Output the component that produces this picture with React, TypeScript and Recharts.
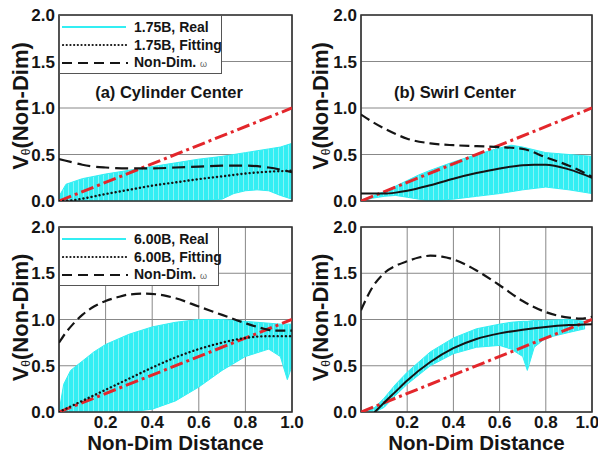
import React from 'react';
import {
  ComposedChart,
  Line,
  Area,
  XAxis,
  YAxis,
  CartesianGrid,
  ReferenceArea,
  Legend,
} from 'recharts';

const FONT = '"Liberation Sans", Arial, Helvetica, sans-serif';

// Axis ticks
const xTicks = [0, 0.2, 0.4, 0.6, 0.8, 1.0];
const yTicks = [0, 0.5, 1.0, 1.5, 2.0];

// Reference linear profile (drawn red, dash-dot) in every panel
const linearX = [0, 1];
const linearV = [0, 1];

// (a) Cylinder center, 1.75B
const omegaAX = [0, 0.05, 0.1, 0.15, 0.2, 0.3, 0.4, 0.5, 0.6, 0.7, 0.8, 0.9, 1.0];
const omegaAV = [0.45, 0.42, 0.39, 0.37, 0.36, 0.35, 0.35, 0.36, 0.37, 0.38, 0.38, 0.36, 0.31];
const fitAX = [0, 0.05, 0.1, 0.2, 0.3, 0.4, 0.5, 0.6, 0.7, 0.8, 0.9, 1.0];
const fitAV = [0, 0.005, 0.025, 0.075, 0.12, 0.165, 0.2, 0.235, 0.265, 0.295, 0.315, 0.325];
const realAX = [0, 0.03, 0.1, 0.2, 0.3, 0.4, 0.5, 0.6, 0.7, 0.75, 0.8, 0.85, 0.9, 0.95, 1.0];
const realALo = [0, 0, 0, 0, 0, 0, 0, 0, 0.02, 0.08, 0.11, 0.12, 0.11, 0.06, 0.02];
const realAHi = [0.05, 0.18, 0.24, 0.29, 0.33, 0.37, 0.41, 0.45, 0.48, 0.5, 0.52, 0.54, 0.56, 0.58, 0.62];

// (b) Swirl center, 1.75B
const omegaBX = [0, 0.05, 0.1, 0.15, 0.2, 0.3, 0.4, 0.5, 0.6, 0.7, 0.8, 0.9, 1.0];
const omegaBV = [0.93, 0.85, 0.78, 0.72, 0.67, 0.62, 0.6, 0.59, 0.58, 0.56, 0.47, 0.38, 0.26];
const fitBX = [0, 0.1, 0.15, 0.2, 0.3, 0.4, 0.5, 0.6, 0.7, 0.75, 0.8, 0.9, 1.0];
const fitBV = [0.08, 0.08, 0.09, 0.11, 0.17, 0.24, 0.3, 0.35, 0.385, 0.39, 0.39, 0.34, 0.25];
const realBX = [0, 0.05, 0.1, 0.15, 0.2, 0.25, 0.3, 0.4, 0.5, 0.6, 0.65, 0.7, 0.8, 0.9, 1.0];
const realBLo = [0, 0.03, 0.05, 0.06, 0.04, 0.02, 0, 0.02, 0.05, 0.08, 0.1, 0.12, 0.15, 0.12, 0.08];
const realBHi = [0.01, 0.05, 0.1, 0.16, 0.22, 0.28, 0.33, 0.42, 0.5, 0.57, 0.6, 0.58, 0.52, 0.5, 0.48];

// (c) Cylinder center, 6.00B
const omegaCX = [0, 0.03, 0.06, 0.1, 0.15, 0.2, 0.25, 0.3, 0.37, 0.45, 0.5, 0.6, 0.7, 0.8, 0.85, 0.88, 0.92, 1.0];
const omegaCV = [0.75, 0.86, 0.95, 1.05, 1.14, 1.2, 1.24, 1.27, 1.28, 1.26, 1.23, 1.14, 1.05, 0.96, 0.92, 0.9, 0.88, 0.88];
const fitCX = [0, 0.1, 0.2, 0.3, 0.4, 0.5, 0.6, 0.7, 0.8, 0.9, 1.0];
const fitCV = [0, 0.12, 0.24, 0.36, 0.48, 0.59, 0.68, 0.75, 0.8, 0.82, 0.82];
const realCX = [0, 0.02, 0.05, 0.1, 0.15, 0.2, 0.3, 0.4, 0.5, 0.6, 0.7, 0.8, 0.9, 0.95, 0.98, 1.0];
const realCLo = [0, 0, 0, 0, 0, 0, 0, 0.03, 0.12, 0.27, 0.45, 0.6, 0.68, 0.6, 0.35, 0.5];
const realCHi = [0, 0.3, 0.45, 0.55, 0.65, 0.73, 0.84, 0.92, 0.97, 1.0, 1.0, 0.98, 0.96, 0.95, 0.95, 0.95];

// (d) Swirl center, 6.00B
const omegaDX = [0, 0.05, 0.1, 0.15, 0.2, 0.25, 0.3, 0.35, 0.4, 0.5, 0.6, 0.7, 0.8, 0.9, 0.95, 1.0];
const omegaDV = [1.1, 1.35, 1.5, 1.58, 1.63, 1.67, 1.69, 1.68, 1.65, 1.53, 1.37, 1.2, 1.08, 1.02, 1.01, 1.03];
const fitDX = [0.06, 0.1, 0.15, 0.2, 0.3, 0.4, 0.5, 0.6, 0.7, 0.8, 0.9, 1.0];
const fitDV = [0, 0.1, 0.22, 0.34, 0.54, 0.69, 0.79, 0.85, 0.89, 0.92, 0.94, 0.95];
const realDX = [0.03, 0.06, 0.1, 0.15, 0.2, 0.3, 0.4, 0.5, 0.6, 0.65, 0.7, 0.72, 0.75, 0.8, 0.9, 0.97];
const realDLo = [0, 0, 0.05, 0.18, 0.3, 0.5, 0.63, 0.7, 0.72, 0.68, 0.6, 0.45, 0.7, 0.8, 0.86, 0.9];
const realDHi = [0.02, 0.05, 0.15, 0.3, 0.43, 0.65, 0.8, 0.9, 0.95, 0.97, 0.98, 0.98, 0.99, 0.99, 1.0, 0.98];

// Legend labels
const legendA = ['1.75B, Real', '1.75B, Fitting', 'Non-Dim. '];
const legendC = ['6.00B, Real', '6.00B, Fitting', 'Non-Dim. '];

const CYAN = '#33eef3';
const RED = '#e3262b';
const INK = '#151515';
const STREAK_FILL = 'url(#realStreaks)';

type Pt = { x: number; v: number };
type BandPt = { x: number; band: [number, number] };

const toPts = (xs: number[], vs: number[]): Pt[] => xs.map((x, i) => ({ x, v: vs[i] }));
const toBand = (xs: number[], lo: number[], hi: number[]): BandPt[] =>
  xs.map((x, i) => ({ x, band: [lo[i], hi[i]] as [number, number] }));

// Shared fill for the raw-signal bands: dense vertical cyan strokes
const StreakDefs = () => (
  <svg width={0} height={0} style={{ position: 'absolute' }}>
    <defs>
      <pattern id="realStreaks" patternUnits="userSpaceOnUse" width={5} height={40}>
        <rect x={0} y={0} width={5} height={40} fill={CYAN} />
        <rect x={3} y={0} width={1} height={40} fill="#86f4f7" />
      </pattern>
    </defs>
  </svg>
);

const YLabel = (props: any) => {
  const vb = props.viewBox || {};
  const cx = 20;
  const cy = vb.y + vb.height / 2 - 2;
  return (
    <text
      x={cx}
      y={cy}
      transform={`rotate(-90, ${cx}, ${cy})`}
      textAnchor="middle"
      dominantBaseline="central"
      fontFamily={FONT}
      fontWeight="bold"
      fontSize={22}
      fill={INK}
    >
      V
      <tspan fontSize={12} dy={6} fontWeight="normal">
        θ
      </tspan>
      <tspan dy={-6}>(Non-Dim)</tspan>
    </text>
  );
};

const XLabel = (props: any) => {
  const vb = props.viewBox || {};
  return (
    <text
      x={vb.x + vb.width / 2}
      y={vb.y + 30}
      textAnchor="middle"
      dominantBaseline="central"
      fontFamily={FONT}
      fontWeight="bold"
      fontSize={20.5}
      fill={INK}
    >
      Non-Dim Distance
    </text>
  );
};

const LegendBox = ({ labels, width, fitDotted }: { labels: string[]; width: number; fitDotted: boolean }) => {
  const samples = [
    <line key="r" x1={0} y1={4} x2={64} y2={4} stroke={CYAN} strokeWidth={2} />,
    fitDotted ? (
      <line key="f" x1={1} y1={4} x2={64} y2={4} stroke={INK} strokeWidth={2.2} strokeDasharray="0.1 3.6" strokeLinecap="round" />
    ) : (
      <line key="f" x1={0} y1={4} x2={64} y2={4} stroke={INK} strokeWidth={2} />
    ),
    <line key="o" x1={0} y1={4} x2={66} y2={4} stroke={INK} strokeWidth={2.2} strokeDasharray="10 6" />,
  ];
  return (
    <div
      style={{
        width,
        boxSizing: 'border-box',
        border: '1px solid #555',
        background: '#fff',
        padding: '2px 0 1px 2px',
        fontFamily: FONT,
        fontWeight: 'bold',
        fontSize: 14,
        color: INK,
        lineHeight: '18px',
      }}
    >
      {labels.map((lab, i) => (
        <div key={lab} style={{ display: 'flex', alignItems: 'center', height: 18 }}>
          <svg width={66} height={8} style={{ marginRight: 6, flex: 'none' }}>
            {samples[i]}
          </svg>
          <span style={{ whiteSpace: 'nowrap' }}>
            {lab}
            {i === 2 ? <span style={{ fontSize: 9, fontWeight: 'normal', color: '#666' }}>ω</span> : null}
          </span>
        </div>
      ))}
    </div>
  );
};

type PanelProps = {
  left: number;
  top: number;
  width: number;
  height: number;
  marginTop: number;
  marginRight: number;
  yAxisWidth: number;
  xAxisHeight: number;
  bottomRow: boolean;
  real: BandPt[];
  fit: Pt[];
  omega: Pt[];
  fitDotted: boolean;
  omegaDash: string;
  legend?: string[];
  legendBox?: { left: number; top: number; width: number };
  title?: string;
  titlePos?: { x: number; y: number };
};

const Panel = (p: PanelProps) => {
  const linear = toPts(linearX, linearV);
  return (
    <div style={{ position: 'absolute', left: p.left, top: p.top, width: p.width, height: p.height }}>
      <ComposedChart
        width={p.width}
        height={p.height}
        margin={{ top: p.marginTop, right: p.marginRight, bottom: 0, left: 0 }}
        style={{ overflow: 'visible' }}
      >
        <CartesianGrid stroke="#888" strokeWidth={1} />
        <XAxis
          type="number"
          dataKey="x"
          domain={[0, 1]}
          ticks={xTicks}
          allowDataOverflow
          height={p.xAxisHeight}
          axisLine={false}
          tickLine={false}
          tickSize={4}
          tickMargin={0}
          tick={p.bottomRow ? { fontFamily: FONT, fontWeight: 'bold', fontSize: 17, fill: INK } : false}
          tickFormatter={(v: number) => (v === 0 ? '' : v.toFixed(1))}
          label={p.bottomRow ? <XLabel /> : undefined}
        />
        <YAxis
          type="number"
          domain={[0, 2]}
          ticks={yTicks}
          allowDataOverflow
          width={p.yAxisWidth}
          axisLine={false}
          tickLine={false}
          tickSize={3}
          tickMargin={1}
          tick={{ fontFamily: FONT, fontWeight: 'bold', fontSize: 17, fill: INK }}
          tickFormatter={(v: number) => v.toFixed(1)}
          label={<YLabel />}
        />
        <Area
          data={p.real}
          dataKey="band"
          type="linear"
          stroke={CYAN}
          strokeWidth={1}
          fill={STREAK_FILL}
          fillOpacity={1}
          isAnimationActive={false}
          legendType="none"
        />
        <Line
          data={linear}
          dataKey="v"
          type="linear"
          stroke={RED}
          strokeWidth={3}
          strokeDasharray="13 4 3 4"
          dot={false}
          isAnimationActive={false}
          legendType="none"
        />
        <Line
          data={p.omega}
          dataKey="v"
          type="monotone"
          stroke={INK}
          strokeWidth={2.2}
          strokeDasharray={p.omegaDash}
          dot={false}
          isAnimationActive={false}
        />
        <Line
          data={p.fit}
          dataKey="v"
          type="monotone"
          stroke={INK}
          strokeWidth={p.fitDotted ? 2.4 : 2}
          strokeDasharray={p.fitDotted ? '0.1 4' : undefined}
          strokeLinecap="round"
          dot={false}
          isAnimationActive={false}
        />
        <ReferenceArea x1={0} x2={1} y1={0} y2={2} fill="none" stroke="#333" strokeWidth={1.6} ifOverflow="visible" />
        {p.legend && p.legendBox ? (
          <Legend
            layout="vertical"
            align="center"
            verticalAlign="middle"
            wrapperStyle={{ position: 'absolute', left: p.legendBox.left, top: p.legendBox.top, width: p.legendBox.width }}
            content={() => <LegendBox labels={p.legend as string[]} width={p.legendBox!.width} fitDotted={p.fitDotted} />}
          />
        ) : null}
      </ComposedChart>
      {p.title && p.titlePos ? (
        <div
          style={{
            position: 'absolute',
            left: p.titlePos.x - 100,
            top: p.titlePos.y - 10,
            width: 200,
            height: 20,
            lineHeight: '20px',
            textAlign: 'center',
            fontFamily: FONT,
            fontWeight: 'bold',
            fontSize: 16.5,
            color: INK,
            pointerEvents: 'none',
          }}
        >
          {p.title}
        </div>
      ) : null}
    </div>
  );
};

export default function App() {
  return (
    <div style={{ position: 'absolute', left: 0, top: 0, width: 598, height: 452, background: '#fff', overflow: 'hidden' }}>
      <StreakDefs />
      <Panel
        left={0}
        top={0}
        width={310}
        height={220}
        marginTop={15}
        marginRight={18}
        yAxisWidth={59}
        xAxisHeight={19}
        bottomRow={false}
        real={toBand(realAX, realALo, realAHi)}
        fit={toPts(fitAX, fitAV)}
        omega={toPts(omegaAX, omegaAV)}
        fitDotted
        omegaDash="13 6"
        legend={legendA}
        legendBox={{ left: 59, top: 15, width: 163 }}
        title="(a) Cylinder Center"
        titlePos={{ x: 169, y: 92 }}
      />
      <Panel
        left={300}
        top={0}
        width={298}
        height={220}
        marginTop={15}
        marginRight={6}
        yAxisWidth={61}
        xAxisHeight={19}
        bottomRow={false}
        real={toBand(realBX, realBLo, realBHi)}
        fit={toPts(fitBX, fitBV)}
        omega={toPts(omegaBX, omegaBV)}
        fitDotted={false}
        omegaDash="10 5"
        title="(b) Swirl Center"
        titlePos={{ x: 155, y: 92 }}
      />
      <Panel
        left={0}
        top={210}
        width={310}
        height={242}
        marginTop={17}
        marginRight={18}
        yAxisWidth={59}
        xAxisHeight={40}
        bottomRow
        real={toBand(realCX, realCLo, realCHi)}
        fit={toPts(fitCX, fitCV)}
        omega={toPts(omegaCX, omegaCV)}
        fitDotted
        omegaDash="10 5"
        legend={legendC}
        legendBox={{ left: 59, top: 17, width: 160 }}
      />
      <Panel
        left={300}
        top={210}
        width={298}
        height={242}
        marginTop={17}
        marginRight={6}
        yAxisWidth={61}
        xAxisHeight={40}
        bottomRow
        real={toBand(realDX, realDLo, realDHi)}
        fit={toPts(fitDX, fitDV)}
        omega={toPts(omegaDX, omegaDV)}
        fitDotted={false}
        omegaDash="10 5"
      />
    </div>
  );
}
